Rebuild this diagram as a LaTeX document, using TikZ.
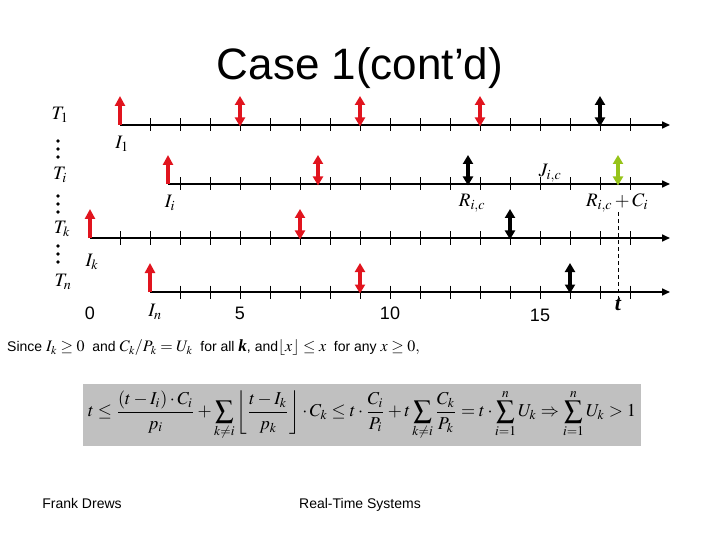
\documentclass[tikz,border=0pt]{standalone}
\usepackage{amsmath}
\usepackage{mathptmx}
\usepackage[no-math]{fontspec}
\setmainfont{Liberation Sans}
\newfontfamily\timesfont{Liberation Serif}
\usepackage{graphicx}
\usetikzlibrary{arrows.meta}
\definecolor{relred}{RGB}{225,20,30}
\definecolor{endgreen}{RGB}{150,195,25}
\definecolor{boxgray}{RGB}{192,192,192}
\newcommand{\mbig}[1]{{\fontsize{16}{18}\selectfont$#1$}}

\begin{document}
\begin{tikzpicture}[
  x=1pt, y=-1pt,
  timeline/.style={line width=1.6pt, -{Triangle[length=8pt, width=7pt]}},
  tick/.style={line width=0.8pt},
  release/.style={line width=3.6pt, -{Triangle[length=10pt, width=10pt]}},
  job/.style={line width=3.6pt, {Triangle[length=9pt, width=10pt]}-{Triangle[length=9pt, width=10pt]}},
  lbl/.style={font=\fontsize{19}{22}\selectfont, inner sep=0pt},
  num/.style={font=\fontsize{18}{20}\selectfont, inner sep=0pt},
  txt/.style={font=\fontsize{14}{16}\selectfont, inner sep=0pt}
]
\useasboundingbox (0,0) rectangle (720,540);
\node[font=\fontsize{44}{48}\selectfont] (title) at (360,68) {Case 1(cont’d)};

\foreach \name/\yy/\xs/\ft in {one/125/120/2, i/184/168/3, k/238/90/1, n/292/150/3} {
  \coordinate (\name-s) at (\xs,\yy);
  \coordinate (\name-e) at (670,\yy);
  \draw[timeline] (\name-s) -- (\name-e);
  \foreach \t in {\ft,...,18}
    \draw[tick] ({90+30*\t},{\yy-6.5}) -- ({90+30*\t},{\yy+6.5});
  \coordinate (\name-r) at (\xs,\yy-29);
  \draw[release, relred] (\name-s) -- (\name-r);
}

\foreach \id/\xx/\yy/\clr in {a/240/125/relred, b/360/125/relred, c/480/125/relred, d/600/125/black,
    e/318/184/relred, f/468/184/black, g/618/184/endgreen,
    h/300/238/relred, m/510/238/black,
    p/360/292/relred, q/570/292/black} {
  \coordinate (\id-lo) at (\xx,\yy+1.5);
  \coordinate (\id-hi) at (\xx,\yy-29);
  \draw[job, \clr] (\id-lo) -- (\id-hi);
}

\node[lbl] (Tone) at (60,115) {$T_1$};
\node[lbl] (Ti) at (60,175) {$T_i$};
\node[lbl] (Tk) at (62,229) {$T_k$};
\node[lbl] (Tn) at (63,282) {$T_n$};
\foreach \yy in {141,149,157, 196,204,212, 246,254,262}
  \fill (58,\yy) circle (1.9);

\node[lbl] (Ione) at (122,144) {$I_1$};
\node[lbl] (Ii) at (170,203) {$I_i$};
\node[lbl] (Ik) at (92,262) {$I_k$};
\node[lbl] (In) at (155,312) {$I_n$};
\node[lbl] (Jic) at (550,173) {$J_{i,c}$};
\node[lbl] (Ric) at (472,203) {$R_{i,c}$};
\node[lbl] (RCi) at (617,203) {$R_{i,c}+C_i$};
\node[lbl, font=\fontsize{22}{24}\selectfont] (tt) at (618,304) {{\timesfont\bfseries\itshape t}};
\draw[line width=0.7pt, dash pattern=on 4pt off 3pt] (RCi.south -| g-lo) -- (tt.north);

\node[num] (zero) at (90,313) {0};
\node[num] (five) at (240,313) {5};
\node[num] (ten) at (390,313) {10};
\node[num] (fifteen) at (540,315) {15};

\node[txt, anchor=west] (since) at (7,348) {Since \mbig{I_k \ge 0}\ \ and \mbig{C_k/P_k = U_k}\ \ for all {\fontsize{17}{18}\selectfont\timesfont\bfseries\itshape k}, and\mbig{\lfloor x\rfloor \le x}\ \ for any \mbig{x \ge 0,}};

\node[fill=boxgray, minimum width=558pt, minimum height=62pt, inner sep=2pt] (formula) at (362,415)
  {\resizebox{548pt}{!}{$\displaystyle t \le \frac{(t-I_i)\cdot C_i}{p_i} + \sum_{k\ne i}\left\lfloor \frac{t-I_k}{p_k}\right\rfloor \cdot C_k \le t\cdot\frac{C_i}{P_i} + t\sum_{k\ne i}\frac{C_k}{P_k} = t\cdot\sum_{i=1}^{n} U_k \Rightarrow \sum_{i=1}^{n} U_k > 1$}};

\node[txt, anchor=base] (author) at (82,508) {Frank Drews};
\node[txt, anchor=base] (course) at (360,508) {Real-Time Systems};
\end{tikzpicture}
\end{document}
